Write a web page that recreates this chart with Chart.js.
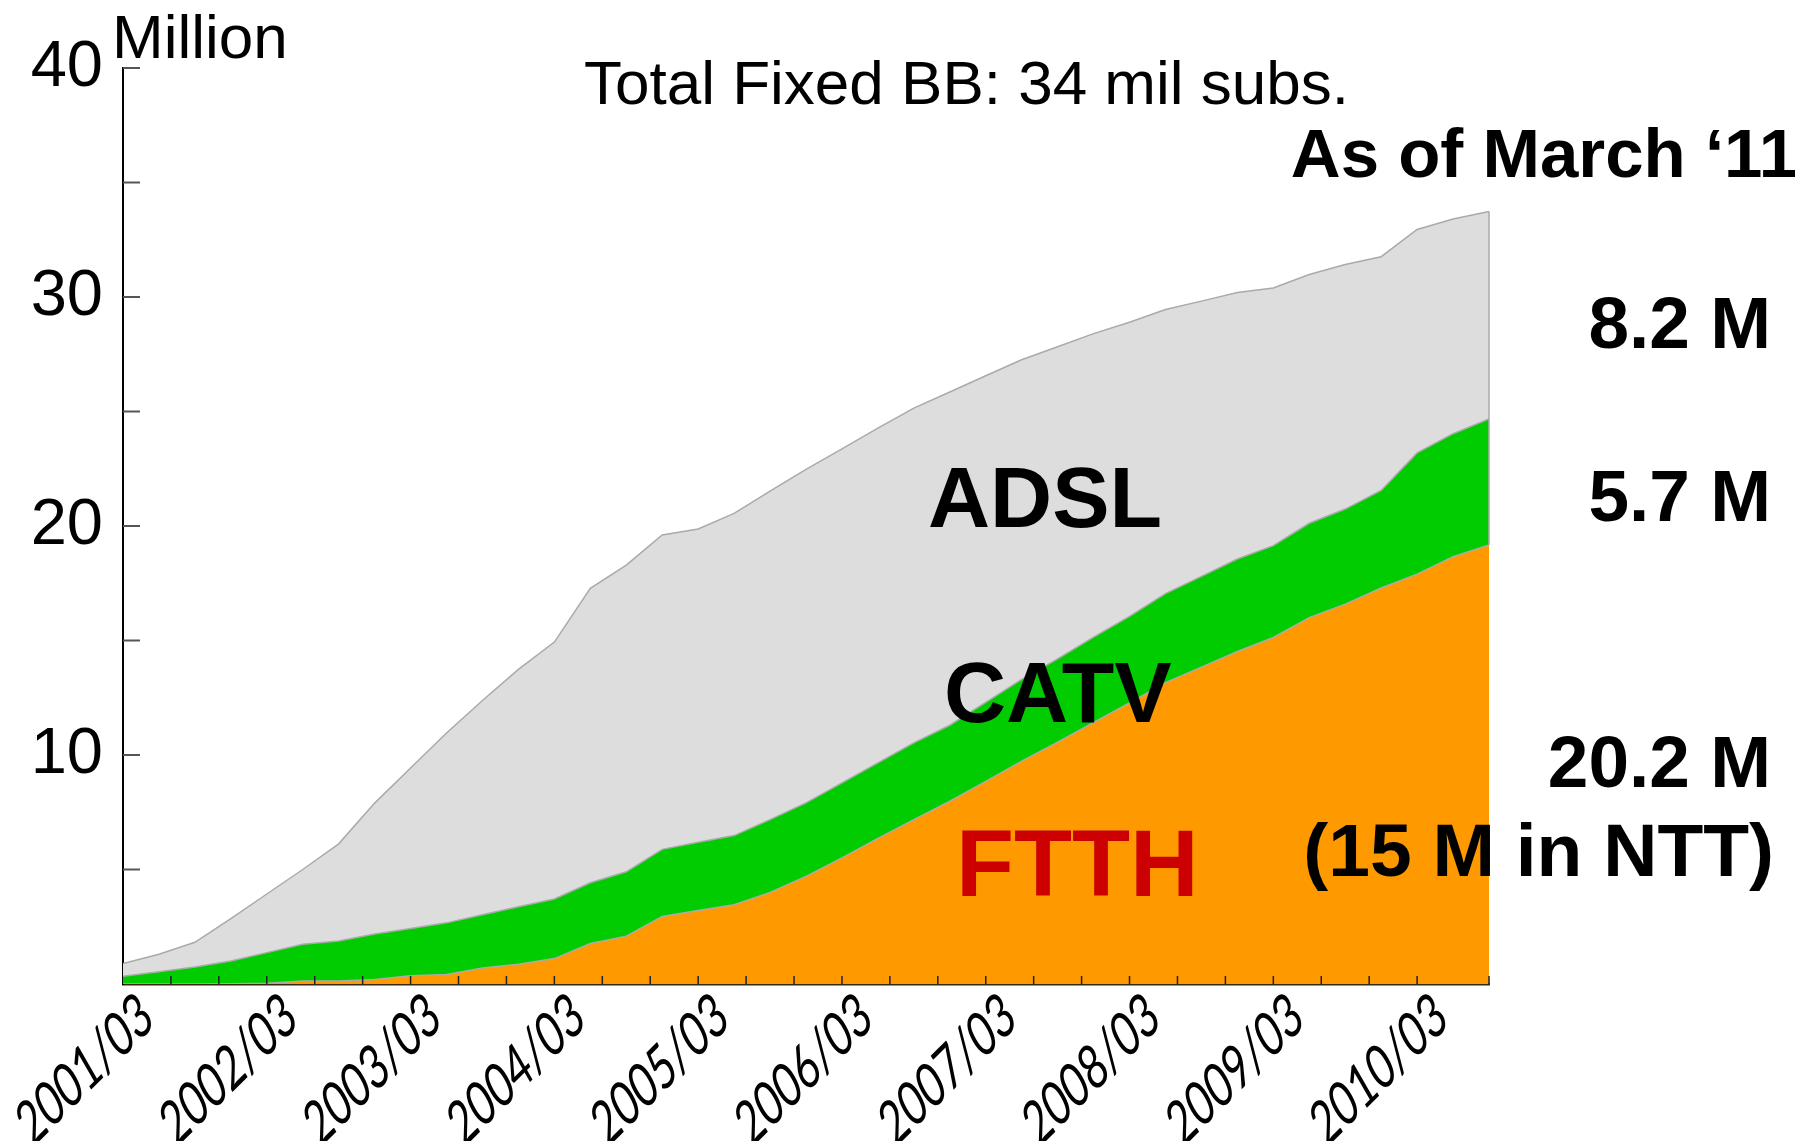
<!DOCTYPE html>
<html>
<head>
<meta charset="utf-8">
<script src="https://cdn.jsdelivr.net/npm/chart.js@4.4.1/dist/chart.umd.min.js"></script>
<style>
html,body{margin:0;padding:0;background:#fff;}
#wrap{width:1795px;height:1141px;position:relative;overflow:hidden;}
canvas{display:block;}
</style>
</head>
<body>
<div id="wrap"><canvas id="c" width="1795" height="1141"></canvas></div>
<script>
// Quarterly observation points (months since 2001/03 = index * 3)
const quarters = ['2001/03','2001/06','2001/09','2001/12','2002/03','2002/06','2002/09','2002/12',
  '2003/03','2003/06','2003/09','2003/12','2004/03','2004/06','2004/09','2004/12',
  '2005/03','2005/06','2005/09','2005/12','2006/03','2006/06','2006/09','2006/12',
  '2007/03','2007/06','2007/09','2007/12','2008/03','2008/06','2008/09','2008/12',
  '2009/03','2009/06','2009/09','2009/12','2010/03','2010/06','2010/09'];

// Subscribers, million (stacked components)
const ftth = [0,0,0,0.01,0.03,0.13,0.13,0.2,0.36,0.42,0.7,0.86,1.11,1.77,2.09,2.95,3.21,3.46,4.0,4.7,
  5.51,6.36,7.18,7.98,8.85,9.73,10.56,11.42,12.28,13.16,13.84,14.52,15.13,16.0,16.59,17.29,17.9,18.66,19.17];
const catv = [0.34,0.53,0.74,0.99,1.34,1.61,1.75,1.98,2.06,2.25,2.32,2.51,2.6,2.65,2.81,2.93,2.98,3.02,3.18,3.21,
  3.27,3.3,3.35,3.32,3.45,3.57,3.64,3.73,3.77,3.89,3.96,4.04,4.01,4.12,4.15,4.26,5.29,5.37,5.51];
const adsl = [0.55,0.77,1.08,1.86,2.56,3.26,4.24,5.72,7.01,8.29,9.36,10.37,11.22,12.86,13.39,13.73,13.68,14.07,14.34,14.56,
  14.59,14.61,14.62,14.55,14.26,13.96,13.63,13.25,12.85,12.4,12.02,11.64,11.25,10.86,10.68,10.21,9.76,9.38,9.05];

// Tick labels
const xTickLabels = ['2001/03','2002/03','2003/03','2004/03','2005/03','2006/03','2007/03','2008/03','2009/03','2010/03'];
const yTickLabels = {10:'10', 20:'20', 30:'30', 40:'40'};

const monthsOf = i => i * 3;
const toPoints = arr => arr.map((v, i) => ({x: monthsOf(i), y: v}));

const marks = {
  id: 'marks',
  afterDraw(chart) {
    const ctx = chart.ctx;
    const xs = chart.scales.x, ys = chart.scales.y;
    ctx.save();
    // right-edge border of the stacked area
    const last = quarters.length - 1;
    const xr = xs.getPixelForValue(monthsOf(last));
    ctx.strokeStyle = '#AAAAAA'; ctx.lineWidth = 1.5;
    ctx.beginPath();
    ctx.moveTo(xr, ys.getPixelForValue(ftth[last] + catv[last] + adsl[last]));
    ctx.lineTo(xr, ys.getPixelForValue(ftth[last]));
    ctx.stroke();
    // y tick marks (inside)
    ys.ticks.forEach(t => {
      if (t.value === 0) return;
      const y = ys.getPixelForValue(t.value);
      ctx.strokeStyle = '#555'; ctx.lineWidth = 2;
      ctx.beginPath(); ctx.moveTo(xs.left, y); ctx.lineTo(xs.left + 17, y); ctx.stroke();
    });
    // x tick marks (inside)
    xs.ticks.forEach(t => {
      if (t.value === 0) return;
      const x = xs.getPixelForValue(t.value);
      ctx.strokeStyle = '#222'; ctx.lineWidth = 1.5;
      ctx.beginPath(); ctx.moveTo(x, ys.bottom); ctx.lineTo(x, ys.bottom - 8); ctx.stroke();
    });
    // x tick labels, rotated 45deg with a mild slant
    ctx.fillStyle = '#000';
    ctx.font = '58px Lato, "Liberation Sans", sans-serif';
    ctx.textAlign = 'right'; ctx.textBaseline = 'middle';
    const b = 45 * Math.PI / 180, u = 120 * Math.PI / 180, sx = 0.77;
    xTickLabels.forEach((lab, k) => {
      const x = xs.getPixelForValue(k * 12);
      ctx.save();
      ctx.translate(x + 24, ys.bottom + 24);
      ctx.transform(Math.cos(b) * sx, -Math.sin(b) * sx, -Math.cos(u), Math.sin(u), 0, 0);
      ctx.fillText(lab, 0, 0);
      ctx.restore();
    });
    // annotations
    const F = '"Liberation Sans", Arial, sans-serif';
    ctx.textBaseline = 'alphabetic';
    ctx.textAlign = 'left';
    ctx.font = '62px ' + F;
    ctx.fillText('Million', 112, 58);
    ctx.fillText('Total Fixed BB: 34 mil subs.', 584, 104);
    ctx.textAlign = 'right';
    ctx.font = 'bold 69px ' + F;
    ctx.fillText('As of March \u201811', 1797, 177);
    ctx.font = 'bold 73px ' + F;
    ctx.fillText('8.2 M', 1771, 348);
    ctx.fillText('5.7 M', 1771, 521);
    ctx.fillText('20.2 M', 1771, 787);
    ctx.font = 'bold 75px ' + F;
    ctx.fillText('(15 M in NTT)', 1774, 876);
    ctx.textAlign = 'left';
    ctx.font = 'bold 86px ' + F;
    ctx.fillText('ADSL', 928, 527);
    ctx.fillText('CATV', 944, 722);
    ctx.fillStyle = '#CC0000';
    ctx.font = 'bold 95px ' + F;
    ctx.fillText('FTTH', 956, 896);
    ctx.restore();
  }
};

new Chart(document.getElementById('c'), {
  type: 'line',
  data: {
    datasets: [
      {label: 'FTTH', data: toPoints(ftth), backgroundColor: '#FF9900', borderColor: '#AAAAAA', borderWidth: 1.5, fill: 'origin', pointRadius: 0, tension: 0},
      {label: 'CATV', data: toPoints(catv), backgroundColor: '#00CC00', borderColor: '#AAAAAA', borderWidth: 1.5, fill: '-1', pointRadius: 0, tension: 0},
      {label: 'ADSL', data: toPoints(adsl), backgroundColor: '#DDDDDD', borderColor: '#AAAAAA', borderWidth: 1.5, fill: '-1', pointRadius: 0, tension: 0}
    ]
  },
  options: {
    responsive: false,
    animation: false,
    devicePixelRatio: 1,
    layout: {padding: {left: 0, right: 306, top: 68, bottom: 0}},
    plugins: {legend: {display: false}, tooltip: {enabled: false}, title: {display: false}},
    scales: {
      x: {
        type: 'linear', min: 0, max: 114, z: 1,
        grid: {display: false, drawTicks: false},
        border: {display: true, color: '#3a2a10', width: 2.5},
        ticks: {stepSize: 4, autoSkip: false, display: false},
        afterFit(s) { s.height = 157; s.paddingLeft = 0; s.paddingRight = 0; }
      },
      y: {
        stacked: true, min: 0, max: 40, z: 1,
        grid: {display: false, drawTicks: false},
        border: {display: true, color: '#000', width: 2},
        ticks: {stepSize: 5, autoSkip: false, padding: 20, color: '#000',
          font: {family: '"Liberation Sans", Arial, sans-serif', size: 65},
          callback: v => yTickLabels[v] || ''},
        afterFit(s) { s.width = 123; s.paddingTop = 0; s.paddingBottom = 0; }
      }
    }
  },
  plugins: [marks]
});
</script>
</body>
</html>
